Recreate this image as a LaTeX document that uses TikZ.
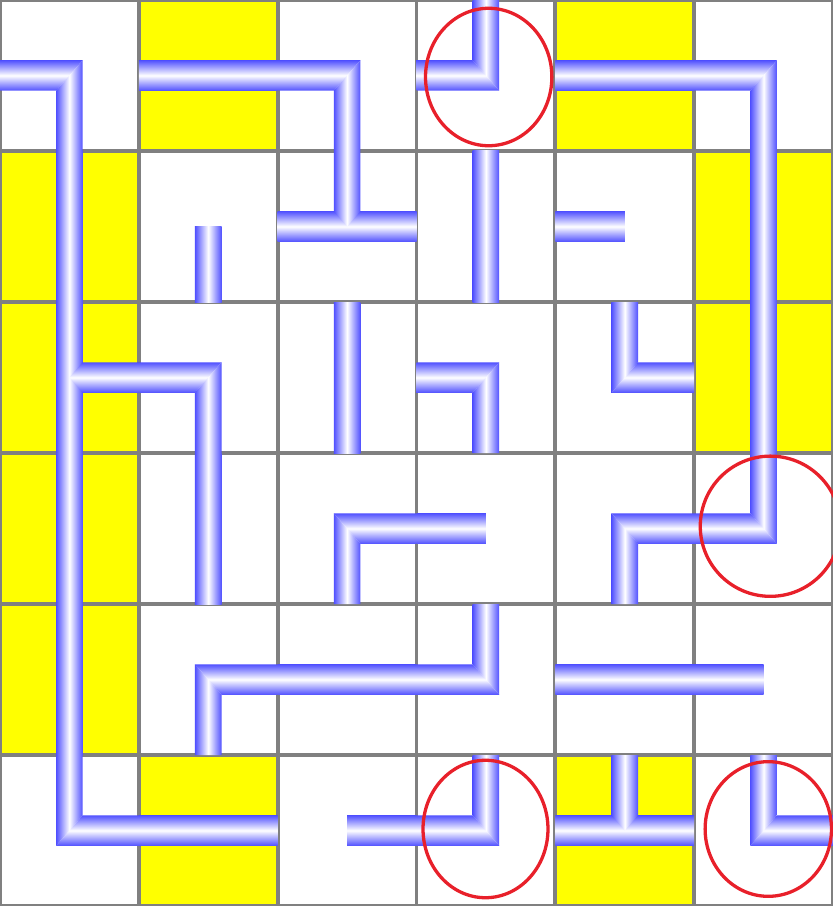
\documentclass[tikz,border=0pt]{standalone}
\usepackage{tikz}
\definecolor{Tubo}{HTML}{5050FF}
\definecolor{Amarillo}{HTML}{FFFF00}
\definecolor{Rejilla}{HTML}{808080}
\definecolor{RojoMarca}{HTML}{E8202A}
% Medio grosor del tubo, en unidades de celda.
\newcommand{\tubx}{0.096}
\newcommand{\tuby}{0.101}
\newcommand{\tuboH}[3]{% x inicial, x final, y del centro
  \shade[tuboh] (#1,{#3-\tuby}) rectangle (#2,{#3+\tuby});}
\newcommand{\tuboV}[3]{% x del centro, y inicial, y final
  \shade[tubov] ({#1-\tubx},#2) rectangle ({#1+\tubx},#3);}
\newcommand{\codo}[4]{% centro, sentido horizontal, sentido vertical
  \shade[tuboh] ({#1+(#3)*0.5},{#2-(#4)*\tuby}) -- ({#1-(#3)*\tubx},{#2-(#4)*\tuby})
    -- ({#1+(#3)*\tubx},{#2+(#4)*\tuby}) -- ({#1+(#3)*0.5},{#2+(#4)*\tuby}) -- cycle;
  \shade[tubov] ({#1-(#3)*\tubx},{#2+(#4)*0.5}) -- ({#1-(#3)*\tubx},{#2-(#4)*\tuby})
    -- ({#1+(#3)*\tubx},{#2+(#4)*\tuby}) -- ({#1+(#3)*\tubx},{#2+(#4)*0.5}) -- cycle;}
\newcommand{\brazoH}[3]{% brazo de una T, en punta hacia el centro
  \shade[tuboh] ({#1+(#3)*0.5},{#2-\tuby}) -- ({#1+(#3)*\tubx},{#2-\tuby}) -- (#1,#2)
    -- ({#1+(#3)*\tubx},{#2+\tuby}) -- ({#1+(#3)*0.5},{#2+\tuby}) -- cycle;}
\newcommand{\brazoV}[3]{%
  \shade[tubov] ({#1-\tubx},{#2+(#3)*0.5}) -- ({#1-\tubx},{#2+(#3)*\tuby}) -- (#1,#2)
    -- ({#1+\tubx},{#2+(#3)*\tuby}) -- ({#1+\tubx},{#2+(#3)*0.5}) -- cycle;}

\begin{document}
\begin{tikzpicture}[
  x=2cm, y=-2.1753cm,
  rejilla/.style={draw=Rejilla, line width=1.6pt},
  tuboh/.style={top color=Tubo, bottom color=Tubo, middle color=white},
  tubov/.style={left color=Tubo, right color=Tubo, middle color=white},
  marca/.style={draw=RojoMarca, line width=1.35pt}
]
  \useasboundingbox (0,0) rectangle (6,6);

  % Celdas amarillas.
  \fill[Amarillo] (1,0) rectangle (2,1) (4,0) rectangle (5,1)
    (0,1) rectangle (1,5) (5,1) rectangle (6,3)
    (1,5) rectangle (2,6) (4,5) rectangle (5,6);

  \draw[rejilla] (0,0) -- (0,6) (1,0) -- (1,6) (2,0) -- (2,6) (3,0) -- (3,6)
    (4,0) -- (4,6) (5,0) -- (5,6) (6,0) -- (6,6);
  \draw[rejilla] (0,0) -- (6,0) (0,1) -- (6,1) (0,2) -- (6,2) (0,3) -- (6,3)
    (0,4) -- (6,4) (0,5) -- (6,5) (0,6) -- (6,6);

  % Fila 0.
  \codo{0.5}{0.5}{-1}{1}
  \tuboH{1}{2}{0.5}
  \codo{2.5}{0.5}{-1}{1}
  \codo{3.5}{0.5}{-1}{-1}
  \tuboH{4}{5}{0.5}
  \codo{5.5}{0.5}{-1}{1}
  % Fila 1.
  \tuboV{0.5}{1}{5}
  \tuboV{1.5}{1.5}{2}
  \tuboH{2}{3}{1.5}
  \brazoV{2.5}{1.5}{-1}
  \tuboV{3.5}{1}{2}
  \tuboH{4}{4.5}{1.5}
  \tuboV{5.5}{1}{3}
  % Fila 2.
  \brazoH{0.5}{2.5}{1}
  \codo{1.5}{2.5}{-1}{1}
  \tuboV{2.5}{2}{3}
  \codo{3.5}{2.5}{-1}{1}
  \codo{4.5}{2.5}{1}{-1}
  % Fila 3.
  \tuboV{1.5}{3}{4}
  \codo{2.5}{3.5}{1}{1}
  \tuboH{3}{3.5}{3.5}
  \codo{4.5}{3.5}{1}{1}
  \codo{5.5}{3.5}{-1}{-1}
  % Fila 4.
  \codo{1.5}{4.5}{1}{1}
  \tuboH{2}{3}{4.5}
  \codo{3.5}{4.5}{-1}{-1}
  \tuboH{4}{5.5}{4.5}
  % Fila 5.
  \codo{0.5}{5.5}{1}{-1}
  \tuboH{1}{2}{5.5}
  \tuboH{2.5}{3}{5.5}
  \codo{3.5}{5.5}{-1}{-1}
  \tuboH{4}{5}{5.5}
  \brazoV{4.5}{5.5}{-1}
  \codo{5.5}{5.5}{1}{-1}

  % Marcas rojas.
  \draw[marca] (3.52,0.51) ellipse [x radius=0.91cm, y radius=0.99cm];
  \draw[marca] (5.549,3.485) ellipse [x radius=1.01cm, y radius=1.01cm];
  \draw[marca] (3.497,5.49) ellipse [x radius=0.9cm, y radius=0.99cm];
  \draw[marca] (5.534,5.49) ellipse [x radius=0.91cm, y radius=0.97cm];
\end{tikzpicture}
\end{document}
